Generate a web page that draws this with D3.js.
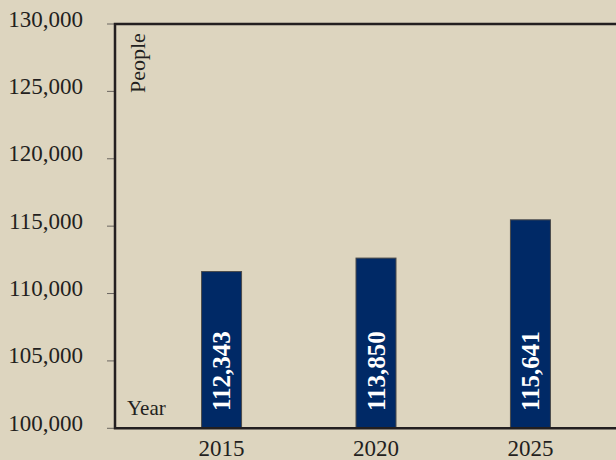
<!DOCTYPE html>
<html>
<head>
<meta charset="utf-8">
<script src="https://cdn.jsdelivr.net/npm/d3@7"></script>
<style>
	body { margin: 0; background: #ddd5bf; }
	svg { display: block; font-family: "Liberation Serif", "Times New Roman", serif; }
</style>
</head>
<body>
<svg width="616" height="460"></svg>
<script>
'use strict';

// chart data
var years = ['2015', '2020', '2025'];
// bar heights as drawn in the picture
var barValues = [111630, 112630, 115470];
// printed labels inside the bars
var barLabels = ['112,343', '113,850', '115,641'];
var yTicks = [100000, 105000, 110000, 115000, 120000, 125000, 130000];

var svg = d3.select('svg');
var plotLeft = 115, plotTop = 24, plotBottom = 428.3, plotRight = 637;

var x = d3.scalePoint()
	.domain(years)
	.range([plotLeft, plotRight])
	.padding(0.69);

var y = d3.scaleLinear()
	.domain([100000, 130000])
	.range([plotBottom, plotTop]);

var fmt = d3.format(',');

// y ticks
var yAxis = svg.append('g').attr('class', 'y-axis');
yAxis.selectAll('line')
		.data(yTicks)
	.enter()
		.append('line')
		.attr('x1', plotLeft - 8)
		.attr('x2', plotLeft)
		.attr('y1', function (d) { return y(d); })
		.attr('y2', function (d) { return y(d); })
		.attr('stroke', '#6b6660')
		.attr('stroke-width', 1);
yAxis.selectAll('text')
		.data(yTicks)
	.enter()
		.append('text')
		.attr('x', 83)
		.attr('y', function (d) { return y(d) + 2.5; })
		.attr('text-anchor', 'end')
		.attr('font-size', 23)
		.attr('fill', '#231f20')
		.text(function (d) { return fmt(d); });

// bars
var bw = 40;
svg.selectAll('rect.bar')
		.data(years)
	.enter()
		.append('rect')
		.attr('class', 'bar')
		.attr('x', function (d) { return x(d) - bw / 2; })
		.attr('y', function (d, i) { return y(barValues[i]); })
		.attr('width', bw)
		.attr('height', function (d, i) { return plotBottom - y(barValues[i]); })
		.attr('fill', '#002966')
		.attr('stroke', '#4a4a4a')
		.attr('stroke-width', 1);

svg.selectAll('text.bar-label')
		.data(years)
	.enter()
		.append('text')
		.attr('class', 'bar-label')
		.attr('transform', function (d) { return 'translate(' + (x(d) + 8.5) + ',411) rotate(-90)'; })
		.attr('font-size', 25)
		.attr('font-weight', 'bold')
		.attr('fill', '#ffffff')
		.text(function (d, i) { return barLabels[i]; });

// frame
var frame = svg.append('g').attr('stroke', '#231f20').attr('fill', 'none');
frame.append('path')
	.attr('d', 'M620,' + plotTop + 'H' + plotLeft + 'V' + plotBottom + 'H620')
	.attr('stroke-width', 2.5);

// x labels
svg.selectAll('text.year')
		.data(years)
	.enter()
		.append('text')
		.attr('class', 'year')
		.attr('x', function (d) { return x(d); })
		.attr('y', 456)
		.attr('text-anchor', 'middle')
		.attr('font-size', 23)
		.attr('fill', '#231f20')
		.text(function (d) { return d; });

// axis titles
svg.append('text')
	.attr('transform', 'translate(145,93) rotate(-90)')
	.attr('font-size', 22)
	.attr('fill', '#231f20')
	.text('People');
svg.append('text')
	.attr('x', 127)
	.attr('y', 415)
	.attr('font-size', 21)
	.attr('fill', '#231f20')
	.text('Year');
</script>
</body>
</html>
